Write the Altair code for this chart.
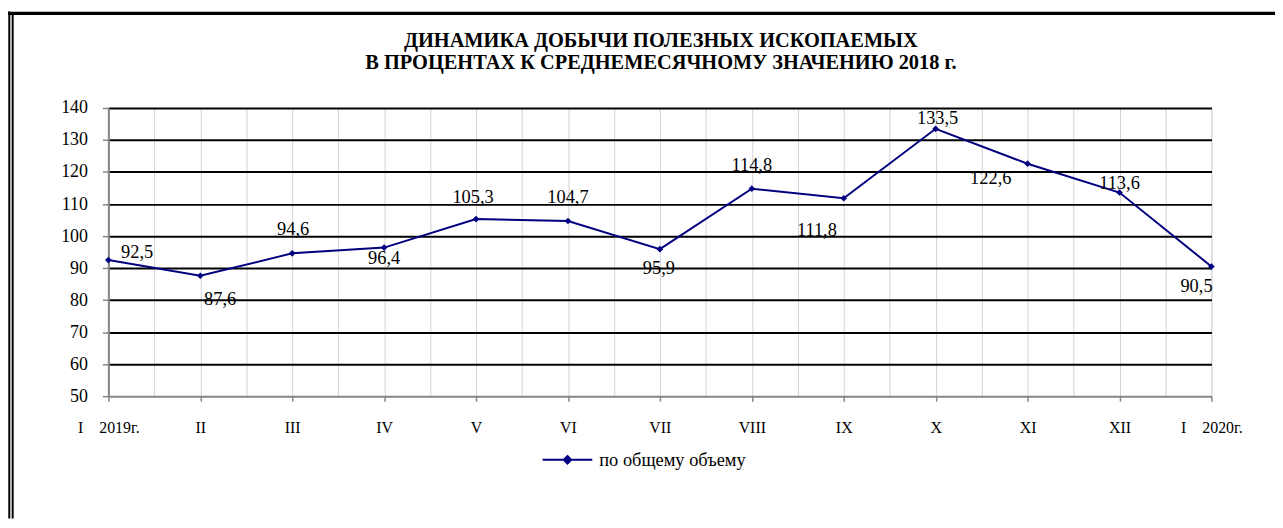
import altair as alt
import pandas as pd

# ---- data ----
MONTHS = ["I\u00a0\u00a0\u00a0\u00a02019г.", "II", "III", "IV", "V", "VI", "VII", "VIII",
          "IX", "X", "XI", "XII", "I\u00a0\u00a0\u00a0\u00a02020г."]
VALUES = [92.5, 87.6, 94.6, 96.4, 105.3, 104.7, 95.9, 114.8, 111.8, 133.5, 122.6, 113.6, 90.5]
SERIES = "по общему объему"
TITLE = ["ДИНАМИКА ДОБЫЧИ ПОЛЕЗНЫХ ИСКОПАЕМЫХ",
         "В ПРОЦЕНТАХ К СРЕДНЕМЕСЯЧНОМУ ЗНАЧЕНИЮ 2018 г."]
Y_TICKS = [50, 60, 70, 80, 90, 100, 110, 120, 130, 140]
Y_GRID = [60, 70, 80, 90, 100, 110, 120, 130, 140]
X_GRID = [0, 0.5, 1, 1.5, 2, 2.5, 3, 3.5, 4, 4.5, 5, 5.5, 6, 6.5, 7, 7.5, 8, 8.5,
          9, 9.5, 10, 10.5, 11, 11.5, 12]

df = pd.DataFrame({
    "idx": list(range(len(MONTHS))),
    "month": MONTHS,
    "value": VALUES,
    "series": [SERIES] * len(MONTHS),
})
title_df = pd.DataFrame({"line": [0, 1], "text": TITLE})

# ---- styling ----
FONT = "Liberation Serif, Times New Roman, DejaVu Serif, serif"
NAVY = "#000080"
AXIS_GRAY = "#868686"
W, H = 1110, 290
PAD_L, PAD_T = 101, 99
TOTAL_W, TOTAL_H = 1275, 512

# label offsets (dx, dy) per point, in pixels (style only)
LABEL_OFFSETS = [(29, -8), (20, 23), (1, -24), (0, 11), (-3, -22), (0, -24), (-1, 19),
                 (0, -24), (-27, 32), (2, -11), (-37, 14), (0, -10), (-15, 20)]
TITLE_Y = [-67, -45]

xs = alt.Scale(domain=[0, len(MONTHS) - 1], nice=False, zero=False)
ys = alt.Scale(domain=[50, 140], nice=False, zero=False)

label_array = "[" + ",".join("'" + m + "'" for m in MONTHS) + "]"

base = alt.Chart(df)

grid_layer = base.mark_point(opacity=0).encode(
    x=alt.X("idx:Q", scale=xs, axis=alt.Axis(
        orient="bottom", values=X_GRID, grid=True, gridColor="#D4D4D4", gridWidth=1,
        ticks=False, labels=False, domain=False, title=None)),
    y=alt.Y("value:Q", scale=ys, axis=alt.Axis(
        orient="left", values=Y_GRID, grid=True, gridColor="#000000", gridWidth=2,
        ticks=False, labels=False, domain=False, title=None)),
)

line_layer = base.mark_line(
    strokeWidth=2,
    point=alt.OverlayMarkDef(shape="diamond", size=45, filled=True, color=NAVY),
).encode(
    x=alt.X("idx:Q", scale=xs, axis=alt.Axis(
        orient="bottom", values=list(range(len(MONTHS))), grid=False,
        labelExpr=label_array + "[datum.value]",
        domainColor=AXIS_GRAY, domainWidth=2, tickColor=AXIS_GRAY, tickWidth=1.5,
        tickSize=5, labelPadding=19, labelFont=FONT, labelFontSize=16,
        labelColor="black", labelAngle=0, labelOverlap=False, labelBound=False,
        labelFlush=False, title=None)),
    y=alt.Y("value:Q", scale=ys, axis=alt.Axis(
        orient="left", values=Y_TICKS, grid=False,
        domainColor=AXIS_GRAY, domainWidth=2, tickColor=AXIS_GRAY, tickWidth=1.5,
        tickSize=6, labelPadding=15, labelFont=FONT, labelFontSize=18,
        labelColor="black", title=None)),
    color=alt.Color("series:N", scale=alt.Scale(range=[NAVY]), legend=alt.Legend(
        title=None, orient="none", legendX=436, legendY=328, padding=0,
        symbolType="M-1,0L1,0M0,-0.15L0.15,0L0,0.15L-0.15,0Z",
        symbolSize=2500, symbolStrokeWidth=2, symbolStrokeColor=NAVY,
        symbolFillColor=NAVY, labelFont=FONT, labelFontSize=18.5,
        labelColor="black", labelOffset=6)),
)

text_layers = []
for i, (dx, dy) in enumerate(LABEL_OFFSETS):
    text_layers.append(
        base.transform_filter(alt.datum.idx == i)
        .transform_calculate(lbl="replace(format(datum.value, '.1f'), '.', ',')")
        .mark_text(font=FONT, fontSize=18.5, color="black", align="center",
                   baseline="middle", dx=dx, dy=dy)
        .encode(x=alt.X("idx:Q", scale=xs, axis=None),
                y=alt.Y("value:Q", scale=ys, axis=None),
                text="lbl:N")
    )

title_layers = []
for i, ty in enumerate(TITLE_Y):
    title_layers.append(
        alt.Chart(title_df).transform_filter(alt.datum.line == i)
        .mark_text(font=FONT, fontSize=20.5, fontWeight="bold", color="black",
                   align="center", baseline="middle")
        .encode(x=alt.value(W / 2 + 1), y=alt.value(ty), text="text:N")
    )

frame_df = pd.DataFrame({"k": [0]})
frame = alt.Chart(frame_df)
top_line = frame.mark_rule(color="black", strokeWidth=3.3).encode(
    x=alt.value(-101), x2=alt.value(TOTAL_W - PAD_L), y=alt.value(-95.3), y2=alt.value(-95.3))
left_outer = frame.mark_rule(color="black", strokeWidth=2).encode(
    x=alt.value(-99.7), x2=alt.value(-99.7), y=alt.value(-97), y2=alt.value(TOTAL_H - PAD_T))
left_inner = frame.mark_rule(color="black", strokeWidth=2).encode(
    x=alt.value(-96.3), x2=alt.value(-96.3), y=alt.value(-94), y2=alt.value(TOTAL_H - PAD_T))

chart = alt.layer(
    grid_layer, line_layer, *text_layers, *title_layers, top_line, left_outer, left_inner
).resolve_axis(x="independent", y="independent").properties(
    width=W, height=H,
    autosize=alt.AutoSizeParams(type="none"),
    padding={"left": PAD_L, "top": PAD_T, "right": TOTAL_W - PAD_L - W,
             "bottom": TOTAL_H - PAD_T - H},
).configure_view(fill="#DBE5F1", stroke=None).configure(background="white")

chart.save("out.html", embed_options={"renderer": "svg", "actions": False})
